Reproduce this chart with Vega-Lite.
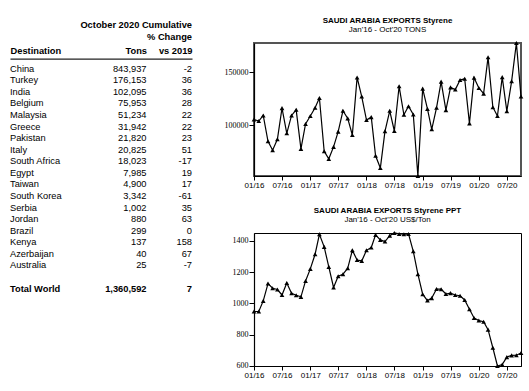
{
  "$schema": "https://vega.github.io/schema/vega-lite/v6.json",
  "background": "white",
  "padding": {"left": 10, "top": 15, "right": 0, "bottom": 0},
  "spacing": 31,
  "config": {
    "axis": {"labelFont": "Liberation Sans", "labelColor": "black", "domainColor": "black", "tickColor": "black", "grid": false, "title": null},
    "text": {"font": "Liberation Sans", "fontSize": 9.3, "color": "black"},
    "title": {"font": "Liberation Sans", "fontSize": 8, "fontWeight": "bold", "color": "black", "subtitleFont": "Liberation Sans", "subtitleFontSize": 8, "subtitleColor": "black", "subtitlePadding": 1, "offset": 7, "anchor": "middle"}
  },
  "datasets": {
    "table": [
      {"Destination": "China", "Tons": 843937, "Change": -2},
      {"Destination": "Turkey", "Tons": 176153, "Change": 36},
      {"Destination": "India", "Tons": 102095, "Change": 36},
      {"Destination": "Belgium", "Tons": 75953, "Change": 28},
      {"Destination": "Malaysia", "Tons": 51234, "Change": 22},
      {"Destination": "Greece", "Tons": 31942, "Change": 22},
      {"Destination": "Pakistan", "Tons": 21820, "Change": 23},
      {"Destination": "Italy", "Tons": 20825, "Change": 51},
      {"Destination": "South Africa", "Tons": 18023, "Change": -17},
      {"Destination": "Egypt", "Tons": 7985, "Change": 19},
      {"Destination": "Taiwan", "Tons": 4900, "Change": 17},
      {"Destination": "South Korea", "Tons": 3342, "Change": -61},
      {"Destination": "Serbia", "Tons": 1002, "Change": 35},
      {"Destination": "Jordan", "Tons": 880, "Change": 63},
      {"Destination": "Brazil", "Tons": 299, "Change": 0},
      {"Destination": "Kenya", "Tons": 137, "Change": 158},
      {"Destination": "Azerbaijan", "Tons": 40, "Change": 67},
      {"Destination": "Australia", "Tons": 25, "Change": -7},
      {"Destination": "Total World", "Tons": 1360592, "Change": 7}
    ],
    "series": [
      {"date": "2016-01-01", "tons": 105600, "ppt": 948},
      {"date": "2016-02-01", "tons": 104100, "ppt": 948},
      {"date": "2016-03-01", "tons": 109400, "ppt": 1016},
      {"date": "2016-04-01", "tons": 85000, "ppt": 1127},
      {"date": "2016-05-01", "tons": 76600, "ppt": 1097},
      {"date": "2016-06-01", "tons": 86900, "ppt": 1089},
      {"date": "2016-07-01", "tons": 116300, "ppt": 1054},
      {"date": "2016-08-01", "tons": 92500, "ppt": 1131},
      {"date": "2016-09-01", "tons": 109400, "ppt": 1065},
      {"date": "2016-10-01", "tons": 114700, "ppt": 1052},
      {"date": "2016-11-01", "tons": 77800, "ppt": 1042},
      {"date": "2016-12-01", "tons": 101300, "ppt": 1144},
      {"date": "2017-01-01", "tons": 108800, "ppt": 1221},
      {"date": "2017-02-01", "tons": 116600, "ppt": 1315},
      {"date": "2017-03-01", "tons": 125900, "ppt": 1443},
      {"date": "2017-04-01", "tons": 75600, "ppt": 1362},
      {"date": "2017-05-01", "tons": 68400, "ppt": 1234},
      {"date": "2017-06-01", "tons": 79700, "ppt": 1102},
      {"date": "2017-07-01", "tons": 94100, "ppt": 1174},
      {"date": "2017-08-01", "tons": 113800, "ppt": 1187},
      {"date": "2017-09-01", "tons": 106600, "ppt": 1225},
      {"date": "2017-10-01", "tons": 90900, "ppt": 1340},
      {"date": "2017-11-01", "tons": 145300, "ppt": 1278},
      {"date": "2017-12-01", "tons": 127200, "ppt": 1272},
      {"date": "2018-01-01", "tons": 105000, "ppt": 1340},
      {"date": "2018-02-01", "tons": 107800, "ppt": 1358},
      {"date": "2018-03-01", "tons": 71300, "ppt": 1439},
      {"date": "2018-04-01", "tons": 59700, "ppt": 1407},
      {"date": "2018-05-01", "tons": 94400, "ppt": 1396},
      {"date": "2018-06-01", "tons": 113800, "ppt": 1434},
      {"date": "2018-07-01", "tons": 94700, "ppt": 1451},
      {"date": "2018-08-01", "tons": 136900, "ppt": 1445},
      {"date": "2018-09-01", "tons": 110000, "ppt": 1443},
      {"date": "2018-10-01", "tons": 118100, "ppt": 1445},
      {"date": "2018-11-01", "tons": 110300, "ppt": 1334},
      {"date": "2018-12-01", "tons": 52200, "ppt": 1187},
      {"date": "2019-01-01", "tons": 134700, "ppt": 1059},
      {"date": "2019-02-01", "tons": 115600, "ppt": 1018},
      {"date": "2019-03-01", "tons": 96300, "ppt": 1034},
      {"date": "2019-04-01", "tons": 116600, "ppt": 1092},
      {"date": "2019-05-01", "tons": 141300, "ppt": 1091},
      {"date": "2019-06-01", "tons": 114400, "ppt": 1060},
      {"date": "2019-07-01", "tons": 135900, "ppt": 1066},
      {"date": "2019-08-01", "tons": 133800, "ppt": 1054},
      {"date": "2019-09-01", "tons": 142800, "ppt": 1049},
      {"date": "2019-10-01", "tons": 144100, "ppt": 1022},
      {"date": "2019-11-01", "tons": 101900, "ppt": 963},
      {"date": "2019-12-01", "tons": 145000, "ppt": 907},
      {"date": "2020-01-01", "tons": 135300, "ppt": 890},
      {"date": "2020-02-01", "tons": 130000, "ppt": 883},
      {"date": "2020-03-01", "tons": 164400, "ppt": 832},
      {"date": "2020-04-01", "tons": 117200, "ppt": 716},
      {"date": "2020-05-01", "tons": 108800, "ppt": 599},
      {"date": "2020-06-01", "tons": 145600, "ppt": 608},
      {"date": "2020-07-01", "tons": 113400, "ppt": 656},
      {"date": "2020-08-01", "tons": 141600, "ppt": 667},
      {"date": "2020-09-01", "tons": 177800, "ppt": 668},
      {"date": "2020-10-01", "tons": 127200, "ppt": 682}
    ]
  },
  "hconcat": [
    {
      "width": 182,
      "height": 271,
      "view": {"stroke": null},
      "title": {"text": ["October 2020 Cumulative", "% Change"], "anchor": "end", "fontSize": 9.3, "fontWeight": "bold", "lineHeight": 12, "offset": 0.5},
      "data": {"name": "table"},
      "encoding": {
        "y": {"field": "Destination", "type": "nominal", "axis": null,
          "scale": {"type": "point", "padding": 0, "range": [25.7, 245.5], "domain": ["China", "Turkey", "India", "Belgium", "Malaysia", "Greece", "Pakistan", "Italy", "South Africa", "Egypt", "Taiwan", "South Korea", "Serbia", "Jordan", "Brazil", "Kenya", "Azerbaijan", "Australia", "gap", "Total World"]}}
      },
      "layer": [
        {
          "transform": [{"filter": "datum.Destination !== 'Total World'"}],
          "mark": {"type": "text", "align": "left", "baseline": "middle"},
          "encoding": {
            "x": {"datum": "Destination", "type": "nominal",
              "scale": {"type": "point", "padding": 0, "domain": ["Destination", "s1", "s2", "Tons", "vs 2019"]},
              "axis": {"orient": "top", "offset": -15.7, "values": ["Destination", "Tons", "vs 2019"], "labelAngle": 0, "ticks": false, "domain": true, "domainWidth": 1.3, "domainColor": "#222", "labelFontWeight": "bold", "labelFontSize": 9.3, "labelPadding": 5, "labelBaseline": "alphabetic", "labelOverlap": false, "labelFlush": false, "labelAlign": {"expr": "datum.value == 'Destination' ? 'left' : 'right'"}}},
            "text": {"field": "Destination", "type": "nominal"}
          }
        },
        {
          "transform": [{"filter": "datum.Destination !== 'Total World'"}],
          "mark": {"type": "text", "align": "right", "baseline": "middle"},
          "encoding": {
            "x": {"datum": "Tons", "type": "nominal"},
            "text": {"field": "Tons", "type": "quantitative", "format": ","}
          }
        },
        {
          "transform": [{"filter": "datum.Destination !== 'Total World'"}],
          "mark": {"type": "text", "align": "right", "baseline": "middle"},
          "encoding": {
            "x": {"datum": "vs 2019", "type": "nominal"},
            "text": {"field": "Change", "type": "nominal"}
          }
        },
        {
          "transform": [{"filter": "datum.Destination === 'Total World'"}],
          "mark": {"type": "text", "align": "left", "baseline": "middle", "fontWeight": "bold"},
          "encoding": {
            "x": {"datum": "Destination", "type": "nominal"},
            "text": {"field": "Destination", "type": "nominal"}
          }
        },
        {
          "transform": [{"filter": "datum.Destination === 'Total World'"}],
          "mark": {"type": "text", "align": "right", "baseline": "middle", "fontWeight": "bold"},
          "encoding": {
            "x": {"datum": "Tons", "type": "nominal"},
            "text": {"field": "Tons", "type": "quantitative", "format": ","}
          }
        },
        {
          "transform": [{"filter": "datum.Destination === 'Total World'"}],
          "mark": {"type": "text", "align": "right", "baseline": "middle", "fontWeight": "bold"},
          "encoding": {
            "x": {"datum": "vs 2019", "type": "nominal"},
            "text": {"field": "Change", "type": "nominal"}
          }
        }
      ]
    },
    {
      "spacing": 16,
      "vconcat": [
        {
          "width": 267,
          "height": 133,
          "view": {"stroke": "#555", "strokeWidth": 2},
          "title": {"text": "SAUDI ARABIA EXPORTS Styrene", "subtitle": "Jan'16 - Oct'20 TONS"},
          "data": {"name": "series"},
          "mark": {"type": "line", "color": "black", "strokeWidth": 1.2, "point": {"shape": "triangle-up", "filled": true, "size": 22, "color": "black"}},
          "encoding": {
            "x": {"field": "date", "type": "temporal", "scale": {"type": "utc", "nice": false},
              "axis": {"labelExpr": "utcFormat(datum.value, '%m/%y')", "tickCount": {"interval": "month", "step": 6}, "labelFontSize": 8, "tickSize": 4, "labelPadding": 1, "labelFlush": false, "labelOverlap": false, "domainWidth": 1.2}},
            "y": {"field": "tons", "type": "quantitative", "scale": {"zero": false, "nice": false},
              "axis": {"values": [100000, 150000], "format": "d", "labelFont": "Liberation Serif", "labelFontSize": 8, "tickSize": 5, "labelPadding": 1, "domainWidth": 1.2}}
          }
        },
        {
          "width": 267,
          "height": 133,
          "view": {"stroke": "black", "strokeWidth": 1},
          "title": {"text": "SAUDI ARABIA EXPORTS Styrene PPT", "subtitle": "Jan'16 - Oct'20 US$/Ton"},
          "data": {"name": "series"},
          "mark": {"type": "line", "color": "black", "strokeWidth": 1.2, "point": {"shape": "triangle-up", "filled": true, "size": 22, "color": "black"}},
          "encoding": {
            "x": {"field": "date", "type": "temporal", "scale": {"type": "utc", "nice": false},
              "axis": {"labelExpr": "utcFormat(datum.value, '%m/%y')", "tickCount": {"interval": "month", "step": 6}, "labelFontSize": 8, "tickSize": 4, "labelPadding": 1, "labelFlush": false, "labelOverlap": false, "domainWidth": 1.2}},
            "y": {"field": "ppt", "type": "quantitative", "scale": {"zero": false, "nice": false},
              "axis": {"values": [600, 800, 1000, 1200, 1400], "format": "d", "labelFont": "Liberation Serif", "labelFontSize": 8, "tickSize": 5, "labelPadding": 1, "domainWidth": 1.2}}
          }
        }
      ]
    }
  ]
}
